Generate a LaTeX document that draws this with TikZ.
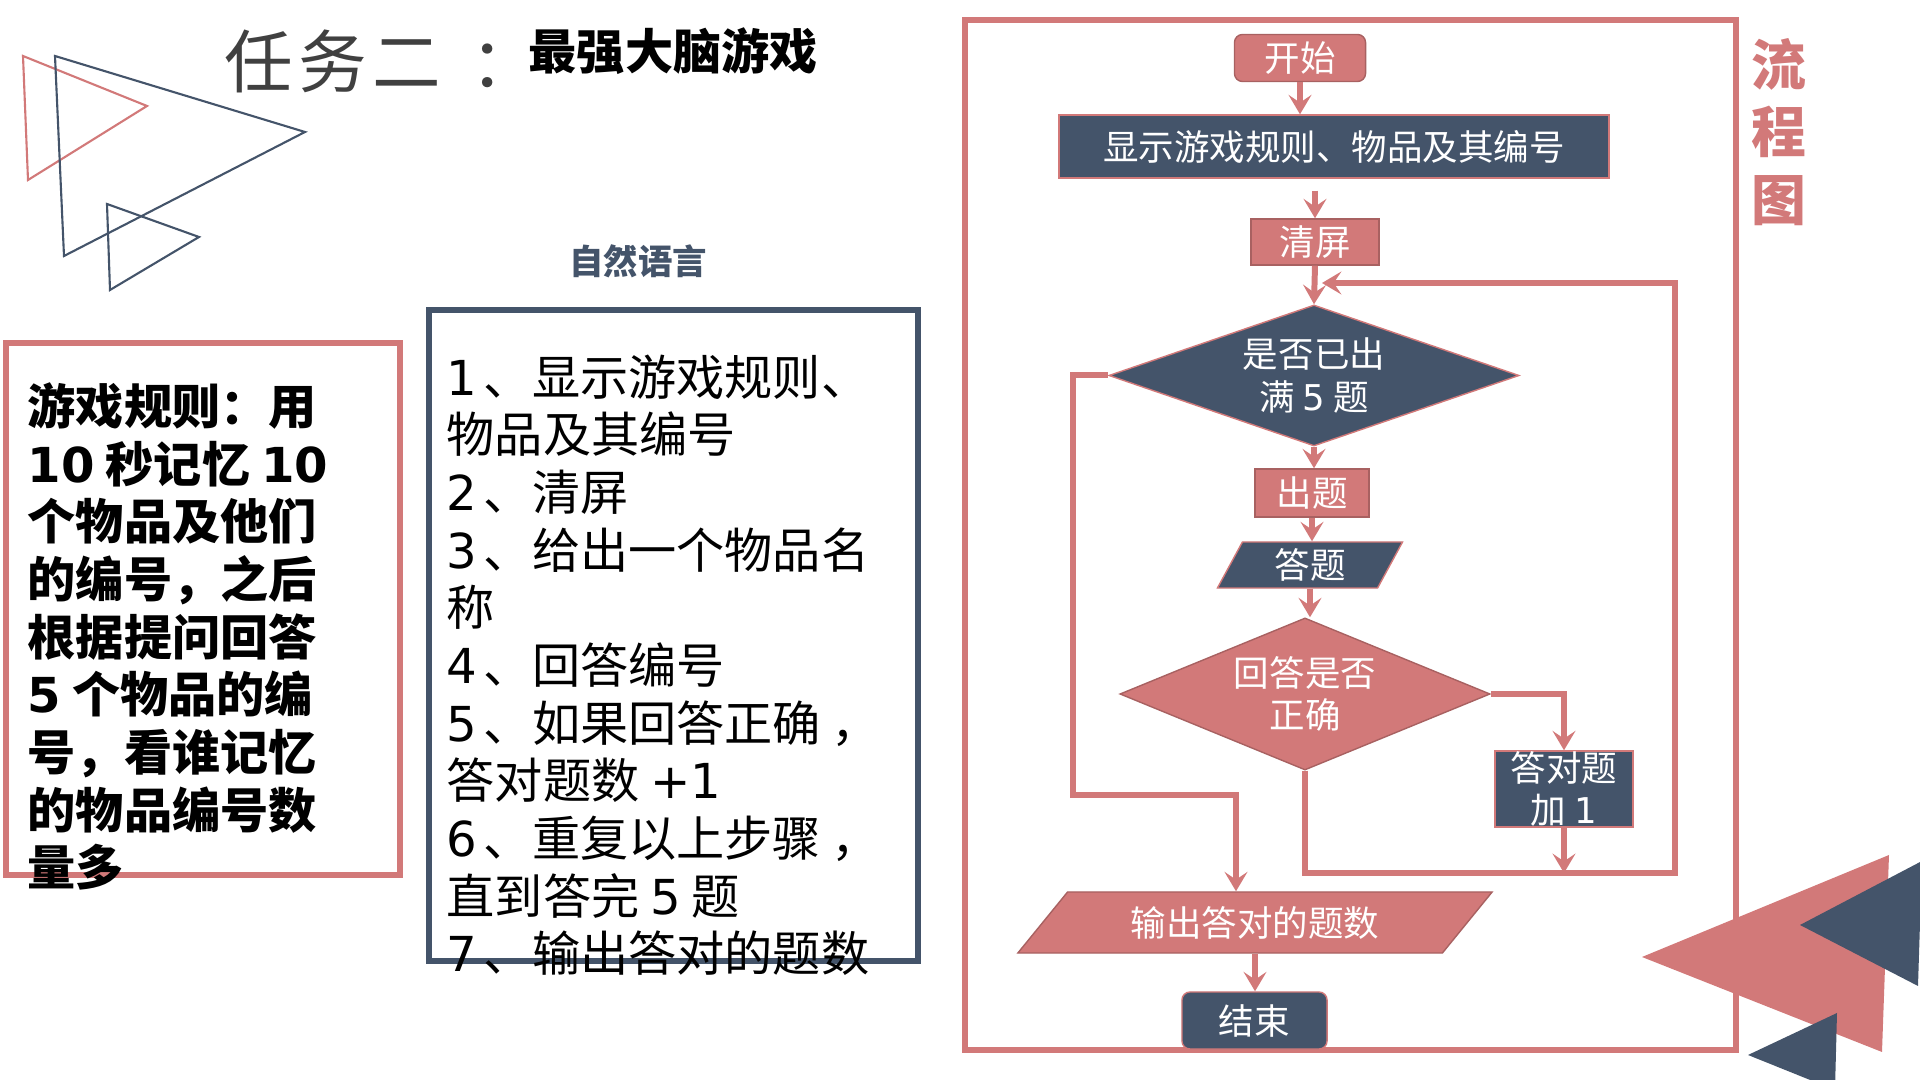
\documentclass[tikz,border=0pt]{standalone}
\usepackage{fontspec}
\setmainfont{Noto Sans CJK SC}
\newfontfamily\latinfont{DejaVu Sans}
\newcommand\digs[1]{{\latinfont #1}}
\usetikzlibrary{shapes.geometric,arrows.meta}
\definecolor{rosered}{RGB}{210,121,121}
\definecolor{slatenavy}{RGB}{68,84,106}
\definecolor{titlegray}{RGB}{64,64,64}

\begin{document}
\begin{tikzpicture}[
    x=0.01cm, y=-0.01cm,
    every node/.style={inner sep=0pt, text=white, font=\fontsize{10.1}{12.2}\selectfont},
    pinkstep/.style={rectangle, fill=rosered, draw=rosered!80!black, line width=0.4pt, align=center},
    navystep/.style={rectangle, fill=slatenavy, draw=rosered, line width=0.4pt, align=center},
    decision/.style={diamond, aspect=2.7, align=center},
    iobox/.style={trapezium, trapezium stretches body, align=center},
    link/.style={draw=rosered, line width=1.7pt},
    conn/.style={link, -{Stealth[length=5.5pt,width=6.5pt,inset=2.2pt]}},
    deco/.style={line width=0.6pt}
]
\useasboundingbox (0,0) rectangle (1920,1080);

% Decorative outline triangles
\draw[deco, rosered] (23,56) -- (147,106) -- (28,180) -- cycle;
\draw[deco, slatenavy] (55,56) -- (305,132) -- (64,256) -- cycle;
\draw[deco, slatenavy] (107,204) -- (199,237) -- (110,290) -- cycle;

% Title
\node[anchor=base west, text=titlegray, font=\fontsize{19.5}{20}\selectfont] (task) at (224,88) {任\kern1.5pt 务\kern1.5pt 二\ \kern4pt ：};
\node[anchor=base west, text=black, font=\fontsize{13.7}{14}\selectfont\bfseries] (game) at (528,70) {最强大脑游戏};
\node[text=slatenavy, font=\fontsize{9.8}{10}\selectfont\bfseries] (natlang) at (638,261) {自然语言};

% Rules box
\draw[rosered, line width=1.5pt] (6,343) rectangle (400,875);
\node[anchor=north west, align=left, text=black, font=\fontsize{13.7}{16.4}\selectfont\bfseries] (rules) at (27,382)
    {游戏规则：用\\\digs{10} 秒记忆 \digs{10}\\个物品及他们\\的编号，之后\\根据提问回答\\\digs{5} 个物品的编\\号，看谁记忆\\的物品编号数\\量多};

% Natural language steps
\draw[slatenavy, line width=1.5pt] (429,310) rectangle (918,961);
\node[anchor=north west, align=left, text=black, font=\fontsize{13.7}{16.4}\selectfont] (steps) at (446,354)
    {\digs{1}\kern-1.2pt{} 、显示游戏规则、\\物品及其编号\\\digs{2}\kern-1.2pt{} 、清屏\\\digs{3}\kern-1.2pt{} 、给出一个物品名\\称\\\digs{4}\kern-1.2pt{} 、回答编号\\\digs{5}\kern-1.2pt{} 、如果回答正确\kern3pt，\\答对题数 \digs{+1}\\\digs{6}\kern-1.2pt{} 、重复以上步骤\kern3pt，\\直到答完 \digs{5} 题\\\digs{7}\kern-1.2pt{} 、输出答对的题数};

% Flowchart frame
\draw[rosered, line width=1.7pt] (965,20) rectangle (1736,1050);
\node[text=rosered, align=center, font=\fontsize{15.6}{19.3}\selectfont\bfseries] (fctitle) at (1779,132) {流\\程\\图};

% Flowchart nodes
\node[pinkstep, rounded corners=0.08cm, minimum width=1.31cm, minimum height=0.47cm] (start) at (1300,58) {开始};
\node[navystep, minimum width=5.5cm, minimum height=0.63cm] (disp) at (1334,146.5) {显示游戏规则、物品及其编号};
\node[pinkstep, minimum width=1.28cm, minimum height=0.46cm] (clr) at (1315,242) {清屏};
\node[decision, fill=slatenavy, draw=rosered, minimum width=4.1cm, minimum height=1.41cm] (full5) at (1314,375.5) {是否已出\\满 \digs{5} 题};
\node[pinkstep, minimum width=1.14cm, minimum height=0.48cm] (ask) at (1312,493) {出题};
\node[iobox, fill=slatenavy, draw=rosered, trapezium left angle=52.7, trapezium right angle=127.3,
      minimum width=1.85cm, minimum height=0.46cm] (ans) at (1310,565) {答题};
\node[decision, fill=rosered, draw=rosered!80!black, minimum width=3.7cm, minimum height=1.52cm] (right) at (1305,694) {回答是否\\正确};
\node[navystep, minimum width=1.38cm, minimum height=0.76cm] (plus1) at (1564,789) {答对题\\加 \digs{1}};
\node[iobox, fill=rosered, draw=rosered!80!black, trapezium left angle=33.5, trapezium right angle=146.5,
      minimum width=4.74cm, minimum height=0.61cm] (outp) at (1255,922.5) {输出答对的题数};
\node[navystep, rounded corners=0.08cm, minimum width=1.45cm, minimum height=0.57cm] (stop) at (1254.5,1020.5) {结束};

% Loop corners
\coordinate (lb) at (1675,873);
\coordinate (lt) at (1675,283);
\coordinate (lx) at (1073,795);
\coordinate (lin) at (1236,795);

% Connectors
\draw[conn] (start.south) -- (start.south |- disp.north);
\draw[conn] ([yshift=-0.12cm]disp.south -| clr.north) -- (clr.north);
\draw[conn] (clr.south) -- (full5.north);
\draw[conn] (full5.south) -- (full5.south |- ask.north);
\draw[conn] (ask.south) -- (ask.south |- ans.north);
\draw[conn] (ans.south) -- (ans.south |- right.north);
\draw[conn] (right.east) -| (plus1.north);
\draw[conn] (plus1.south) -- (plus1.south |- lb);
\draw[conn] (right.south) -- (right.south |- lb) -- (lb) -- (lt) -- ([xshift=0.08cm]lt -| full5.north);
\draw[conn] (full5.west) -| (lx) -- (lin) -- (lin |- outp.north);
\draw[conn] (outp.south) -- (outp.south |- stop.north);

% Decorative filled triangles
\fill[rosered] (1642,957) -- (1889,855) -- (1882,1052) -- cycle;
\fill[slatenavy] (1800,925) -- (1922,861) -- (1918,986) -- cycle;
\fill[slatenavy] (1748,1055) -- (1837,1013) -- (1835,1090) -- cycle;
\end{tikzpicture}
\end{document}
